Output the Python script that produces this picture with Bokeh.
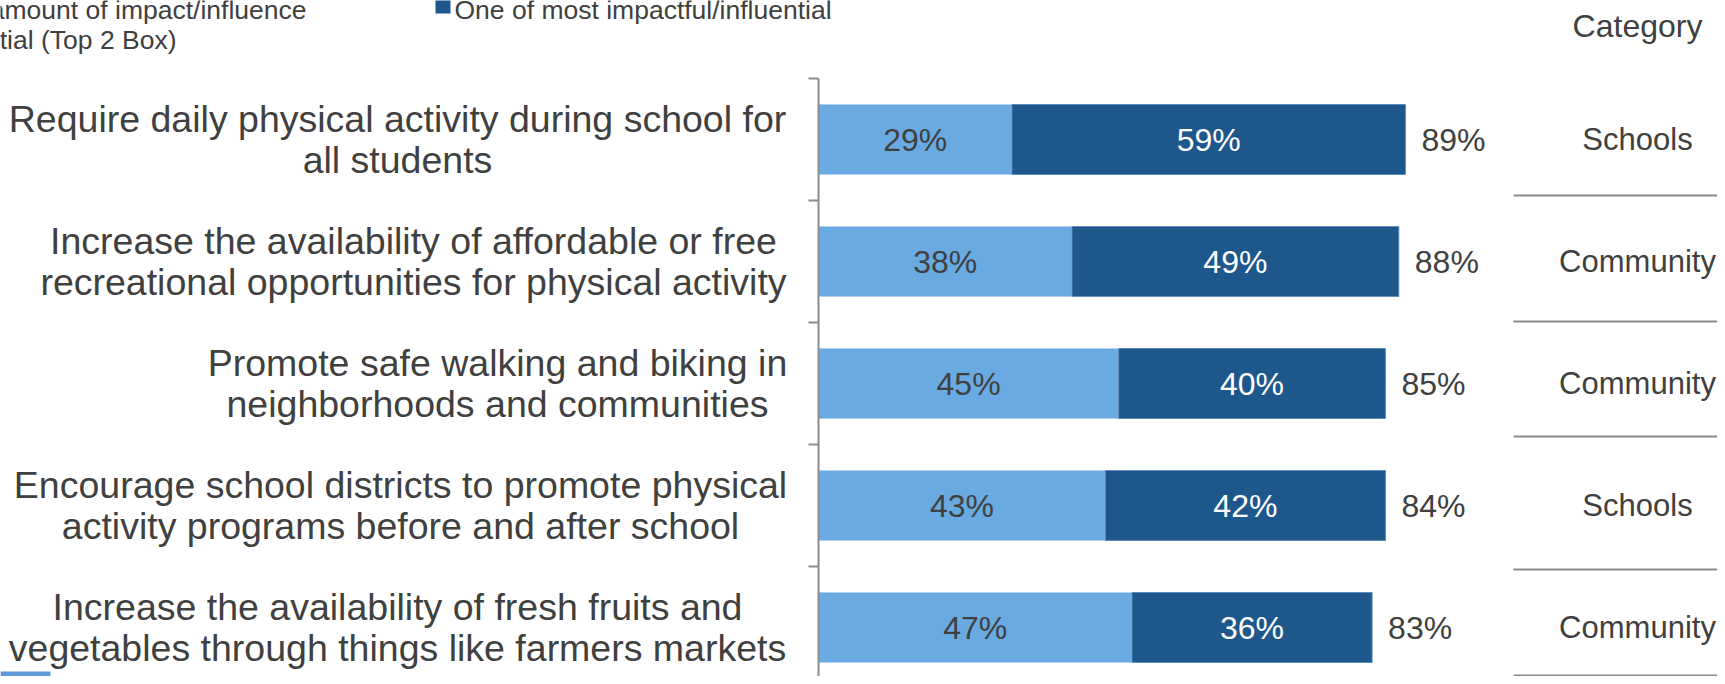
from bokeh.plotting import figure
from bokeh.models import Range1d, ColumnDataSource
from bokeh.core.properties import value
from bokeh.embed import file_html
from bokeh.resources import INLINE

# ---------------- data ----------------
statements = [
    "Require daily physical activity during school for\nall students",
    "Increase the availability of affordable or free\nrecreational opportunities for physical activity",
    "Promote safe walking and biking in\nneighborhoods and communities",
    "Encourage school districts to promote physical\nactivity programs before and after school",
    "Increase the availability of fresh fruits and\nvegetables through things like farmers markets",
]
some_impact = [29, 38, 45, 43, 47]          # light blue segment
most_impact = [59, 49, 40, 42, 36]          # dark blue segment
top2_total = [89, 88, 85, 84, 83]           # total label
category = ["Schools", "Community", "Community", "Schools", "Community"]
category_header = "Category"
legend_light_lines = ["amount of impact/influence", "tial (Top 2 Box)"]
legend_dark = "One of most impactful/influential"

# ---------------- layout / style ----------------
W, H = 1717, 676
X0, PXU = 818.0, 6.67      # canvas px of 0 %, px per %
Y0, ROW = 139.0, 122.0     # canvas px of first row centre, px per row
BAR_H = 70.0 / ROW
LIGHT, DARK = "#6AAAE2", "#1D578C"
TXT = "#404040"
FONT = value("Liberation Sans")
label_centers_px = [397, 413, 497, 400, 397]
sep_lines_px = [195, 321, 436, 569, 675]
CAT_X = 1637


def xd(px):
    return (px - X0) / PXU


def yd(py):
    return (py - Y0) / ROW


rows = list(range(len(statements)))
ends = [a + b for a, b in zip(some_impact, most_impact)]

src = ColumnDataSource(dict(
    row=rows,
    zero=[0] * len(rows),
    light_end=some_impact,
    dark_end=ends,
    light_mid=[a / 2 for a in some_impact],
    dark_mid=[a + b / 2 for a, b in zip(some_impact, most_impact)],
    light_txt=[f"{v}%" for v in some_impact],
    dark_txt=[f"{v}%" for v in most_impact],
    tot_txt=[f"{v}%" for v in top2_total],
    stmt=statements,
    stmt_x=[xd(c) for c in label_centers_px],
    cat=category,
))

p = figure(width=W, height=H, output_backend="svg", toolbar_location=None,
           x_range=Range1d(xd(0), xd(W)), y_range=Range1d(yd(H), yd(0)),
           x_axis_type=None, y_axis_type=None, min_border=0,
           outline_line_color=None, background_fill_color="white")

# bars
p.hbar(y="row", left="zero", right="light_end", height=BAR_H, source=src,
       fill_color=LIGHT, line_color="#B3D2F0", line_width=1)
p.hbar(y="row", left="light_end", right="dark_end", height=BAR_H, source=src,
       fill_color=DARK, line_color="#5E8DBA", line_width=1)

# axis line + ticks (category axis)
p.segment(x0=0, y0=-0.5, x1=0, y1=yd(H) + 0.2, line_color="#8C8C8C", line_width=2)
tick_y = [r - 0.5 for r in rows]
p.segment(x0=[-10 / PXU] * len(tick_y), x1=[0] * len(tick_y), y0=tick_y, y1=tick_y,
          line_color="#8C8C8C", line_width=2)

# in-bar labels
p.text(x="light_mid", y="row", text="light_txt", source=src, text_align="center",
       text_baseline="middle", text_font=FONT, text_font_size="32px", text_color=TXT)
p.text(x="dark_mid", y="row", text="dark_txt", source=src, text_align="center",
       text_baseline="middle", text_font=FONT, text_font_size="32px", text_color="white")
# totals
p.text(x="dark_end", y="row", text="tot_txt", source=src, x_offset=16, text_align="left",
       text_baseline="middle", text_font=FONT, text_font_size="32px", text_color=TXT)

# statements (category labels)
p.text(x="stmt_x", y="row", text="stmt", source=src, text_align="center",
       text_baseline="middle", text_font=FONT, text_font_size="37.5px",
       text_line_height=0.98, text_color=TXT)

# category column
p.text(x=xd(CAT_X), y="row", text="cat", source=src, text_align="center",
       text_baseline="middle", text_font=FONT, text_font_size="31px", text_color=TXT)
p.text(x=[xd(CAT_X)], y=[yd(25)], text=[category_header], text_align="center",
       text_baseline="middle", text_font=FONT, text_font_size="32px", text_color=TXT)
p.segment(x0=[xd(1513)] * 5, x1=[xd(W)] * 5,
          y0=[yd(v) for v in sep_lines_px], y1=[yd(v) for v in sep_lines_px],
          line_color="#8A8A8A", line_width=2)

# legend (cropped at top-left like the reference)
p.quad(left=[xd(435)], right=[xd(450)], top=[yd(-3)], bottom=[yd(13)],
       fill_color=DARK, line_color=None)
p.text(x=[xd(454)], y=[yd(9)], text=[legend_dark], text_align="left",
       text_baseline="alphabetic", text_font=FONT, text_font_size="26.5px", text_color=TXT)
p.text(x=[xd(306), xd(176)], y=[yd(9), yd(39)], text=legend_light_lines,
       text_align="right", text_baseline="alphabetic", text_font=FONT,
       text_font_size="26.5px", text_color=TXT)

# cropped light-blue swatch at bottom-left corner
p.quad(left=[xd(0)], right=[xd(50)], top=[yd(671)], bottom=[yd(H + 2)],
       fill_color="#5E9AD9", line_color=None)

open("out.html", "w").write(file_html(p, INLINE))
